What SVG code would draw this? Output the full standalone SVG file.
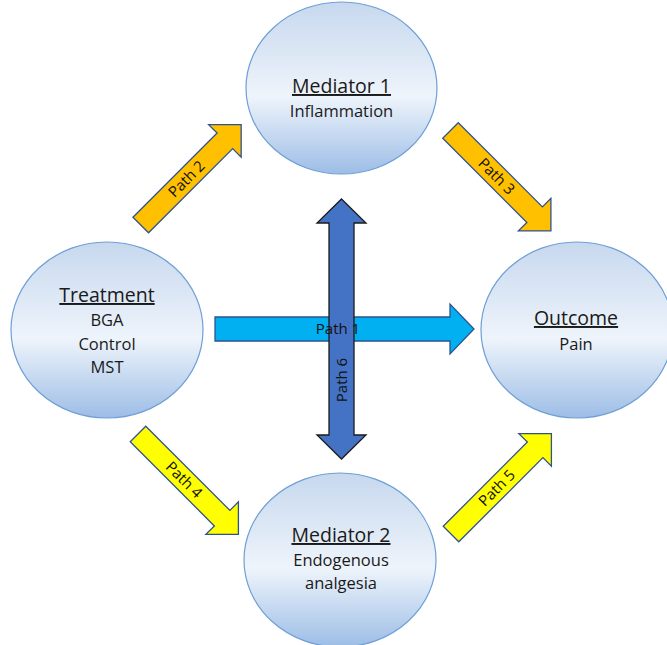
<svg xmlns="http://www.w3.org/2000/svg" width="667" height="645" viewBox="0 0 667 645">
<style>
.node{stroke:#6f9fd6;stroke-width:1.2;fill:url(#g)}
.title{font-family:"Open Sans","Noto Sans",sans-serif;font-size:19.5px;fill:#1a1a1a;text-anchor:middle;text-decoration:underline}
.sub{font-family:"Open Sans","Noto Sans",sans-serif;font-size:16.5px;fill:#1a1a1a;text-anchor:middle}
.lbl{font-family:"Open Sans","Noto Sans",sans-serif;font-size:15px;fill:#111;text-anchor:middle}
.arr{stroke:#2f528f;stroke-width:1.3;stroke-linejoin:miter}
.orange{fill:#ffc000}
.yellow{fill:#ffff00}
</style>
<defs>
<linearGradient id="g" x1="0" y1="0" x2="0" y2="1">
<stop offset="0" stop-color="#c7d8ee"/>
<stop offset="0.55" stop-color="#eef4fb"/>
<stop offset="1" stop-color="#9dbde6"/>
</linearGradient>
<path id="da" d="M0,-11 H119 V-23 L142,0 L119,23 V11 H0 Z"/>
</defs>
<rect width="667" height="645" fill="#ffffff"/>
<g id="mediator1">
<ellipse class="node" cx="341.5" cy="88" rx="95.5" ry="86"/>
<text class="title" x="341.5" y="93">Mediator 1</text>
<text class="sub" x="341.5" y="117">Inflammation</text>
</g>
<g id="treatment">
<ellipse class="node" cx="107" cy="330" rx="96" ry="88"/>
<text class="title" x="107" y="302">Treatment</text>
<text class="sub" x="107" y="326">BGA</text>
<text class="sub" x="107" y="350">Control</text>
<text class="sub" x="107" y="373">MST</text>
</g>
<g id="outcome">
<ellipse class="node" cx="577" cy="330" rx="96" ry="88"/>
<text class="title" x="576" y="325">Outcome</text>
<text class="sub" x="576" y="350">Pain</text>
</g>
<g id="mediator2">
<ellipse class="node" cx="340" cy="560" rx="96" ry="87"/>
<text class="title" x="341" y="542">Mediator 2</text>
<text class="sub" x="341" y="566">Endogenous</text>
<text class="sub" x="341" y="589">analgesia</text>
</g>
<g id="connectors">
<g id="path2" transform="translate(140.75,225) rotate(-45)">
<use href="#da" class="arr orange"/>
<text class="lbl" x="65" y="5">Path 2</text>
</g>
<g id="path3" transform="translate(450.5,130.5) rotate(45)">
<use href="#da" class="arr orange"/>
<text class="lbl" x="65" y="5">Path 3</text>
</g>
<g id="path4" transform="translate(138,434) rotate(45)">
<use href="#da" class="arr yellow"/>
<text class="lbl" x="65" y="5">Path 4</text>
</g>
<g id="path5" transform="translate(451,534) rotate(-45)">
<use href="#da" class="arr yellow"/>
<text class="lbl" x="65" y="5">Path 5</text>
</g>
<g id="path1">
<path class="arr" fill="#00b0f0" d="M215,317 H450 V304 L474,329 L450,354 V341 H215 Z"/>
</g>
<g id="path6">
<path fill="#4472c4" stroke="#1b1b1b" stroke-width="1.3" d="M341.5,199 L366,223 H354 V435 H366 L341.5,459 L317,435 H329 V223 H317 Z"/>
<text class="lbl" transform="translate(346.5,380) rotate(-90)" x="0" y="0">Path 6</text>
</g>
<text class="lbl" x="338" y="334">Path 1</text>
</g>
</svg>
